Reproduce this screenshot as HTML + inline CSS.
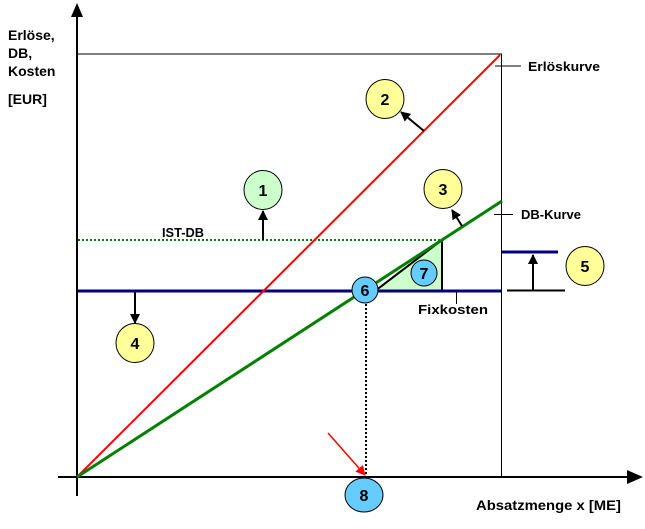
<!DOCTYPE html>
<html><head><meta charset="utf-8"><style>
html,body{margin:0;padding:0;background:#fff;}
svg{display:block;}
text{font-family:"Liberation Sans",Arial,sans-serif;font-weight:bold;}
</style></head><body>
<svg width="645" height="529" viewBox="0 0 645 529" xmlns="http://www.w3.org/2000/svg">
<defs>
<marker id="ah" markerWidth="10" markerHeight="10" refX="9" refY="5" orient="auto" markerUnits="userSpaceOnUse"><path d="M0,0 L10,5 L0,10 z" fill="#000"/></marker>
<marker id="ahr" markerWidth="10" markerHeight="10" refX="9" refY="5" orient="auto" markerUnits="userSpaceOnUse"><path d="M0,0 L10,5 L0,10 z" fill="#f00"/></marker>
</defs>
<line x1="77" y1="16" x2="77" y2="496" stroke="#000" stroke-width="2"/>
<path d="M71,17 L77,3 L83,17 z" fill="#000"/>
<line x1="58" y1="477" x2="628" y2="477" stroke="#000" stroke-width="2"/>
<path d="M627,470 L643,477 L627,484 z" fill="#000"/>
<line x1="77" y1="54" x2="502" y2="54" stroke="#000" stroke-width="1"/>
<line x1="501.5" y1="54" x2="501.5" y2="477" stroke="#000" stroke-width="1"/>
<path d="M375,291 L442,240 L442,291 z" fill="#ccffcc" stroke="#000" stroke-width="2"/>
<line x1="78" y1="240" x2="442" y2="240" stroke="#008000" stroke-width="2" stroke-dasharray="2,2"/>
<line x1="78" y1="291" x2="501" y2="291" stroke="#000080" stroke-width="3"/>
<line x1="77" y1="477" x2="500" y2="55" stroke="#f00" stroke-width="2"/>
<line x1="77" y1="477" x2="502" y2="201" stroke="#008000" stroke-width="3"/>
<line x1="366" y1="300" x2="366" y2="476" stroke="#000" stroke-width="2" stroke-dasharray="2,2"/>
<line x1="495" y1="66" x2="521" y2="66" stroke="#000" stroke-width="1"/>
<line x1="494" y1="214.5" x2="513" y2="214.5" stroke="#000" stroke-width="1"/>
<line x1="456.5" y1="292" x2="456.5" y2="304" stroke="#000" stroke-width="1"/>
<line x1="502" y1="252" x2="558" y2="252" stroke="#000080" stroke-width="3"/>
<line x1="507" y1="290.5" x2="565" y2="290.5" stroke="#000" stroke-width="2"/>
<line x1="533" y1="290" x2="533" y2="255" stroke="#000" stroke-width="2" marker-end="url(#ah)"/>
<line x1="263" y1="240" x2="263" y2="211" stroke="#000" stroke-width="2" marker-end="url(#ah)"/>
<line x1="424" y1="131" x2="401" y2="112" stroke="#000" stroke-width="2" marker-end="url(#ah)"/>
<line x1="462" y1="226" x2="452" y2="210" stroke="#000" stroke-width="2" marker-end="url(#ah)"/>
<line x1="135" y1="292" x2="135" y2="323" stroke="#000" stroke-width="2" marker-end="url(#ah)"/>
<line x1="328" y1="433" x2="365" y2="475" stroke="#f00" stroke-width="1.5" marker-end="url(#ahr)"/>
<g stroke="#000" stroke-width="1">
<ellipse cx="263" cy="190" rx="19" ry="19.5" fill="#ccffcc"/>
<ellipse cx="385" cy="99" rx="19" ry="19.5" fill="#ffff99"/>
<ellipse cx="443" cy="189" rx="19" ry="19.5" fill="#ffff99"/>
<ellipse cx="135" cy="343" rx="19" ry="19.5" fill="#ffff99"/>
<ellipse cx="585" cy="266" rx="19" ry="19.5" fill="#ffff99"/>
</g>
<circle cx="365" cy="290" r="13" fill="#66ccff" stroke="#000" stroke-width="1"/>
<circle cx="424" cy="273" r="13" fill="#66ccff" stroke="#000" stroke-width="1"/>
<ellipse cx="364" cy="495" rx="19" ry="17" fill="#66ccff" stroke="#000" stroke-width="1"/>
<g font-size="16" text-anchor="middle">
<text x="263" y="196">1</text>
<text x="385" y="105">2</text>
<text x="443" y="195">3</text>
<text x="135" y="349">4</text>
<text x="585" y="272">5</text>
<text x="365" y="296">6</text>
<text x="424" y="279">7</text>
<text x="364" y="501">8</text>
</g>
<g font-size="14">
<text x="8" y="40">Erlöse,</text>
<text x="8" y="58">DB,</text>
<text x="8" y="76">Kosten</text>
<text x="8" y="104">[EUR]</text>
</g>
<g font-size="13">
<text x="528" y="71" textLength="72" lengthAdjust="spacingAndGlyphs">Erlöskurve</text>
<text x="521" y="219" textLength="60" lengthAdjust="spacingAndGlyphs">DB-Kurve</text>
<text x="418" y="314" textLength="70" lengthAdjust="spacingAndGlyphs">Fixkosten</text>
<text x="162" y="237" textLength="42" lengthAdjust="spacingAndGlyphs">IST-DB</text>
<text x="476" y="510" font-size="14" textLength="145" lengthAdjust="spacingAndGlyphs">Absatzmenge x [ME]</text>
</g>
</svg>
</body></html>
